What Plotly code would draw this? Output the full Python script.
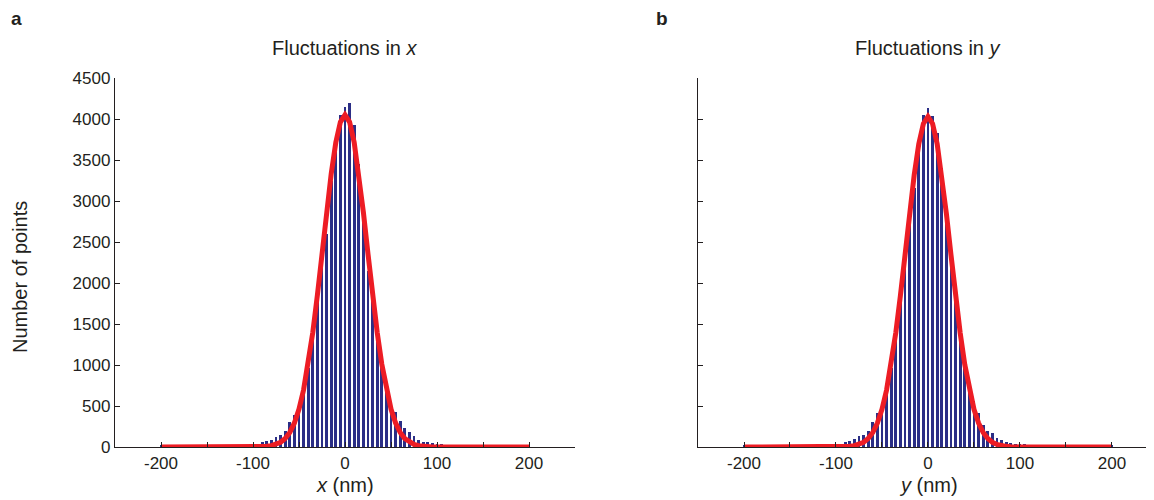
import plotly.graph_objects as go
from plotly.subplots import make_subplots

# histogram bins (nm), 5 nm wide
bin_nm = [-200, -105, -100, -95, -90, -85, -80, -75, -70, -65, -60, -55, -50, -45,
          -40, -35, -30, -25, -20, -15, -10, -5, 0, 5, 10, 15, 20, 25, 30, 35,
          40, 45, 50, 55, 60, 65, 70, 75, 80, 85, 90, 95, 100, 105, 200]

counts_x = [15, 24, 40, 40, 65, 77, 86, 122, 150, 199, 309, 385, 528, 720,
            960, 1330, 1780, 2270, 2593, 3250, 3700, 4053, 4150, 4196, 3930, 3450, 2800, 2144, 1780, 1350,
            1000, 738, 550, 432, 312, 235, 178, 130, 86, 65, 65, 49, 40, 37, 15]

counts_y = [15, 24, 40, 40, 57, 77, 98, 130, 150, 199, 301, 410, 528, 722,
            960, 1330, 1790, 2280, 2800, 3156, 3700, 4053, 4138, 4032, 3832, 3400, 2850, 2300, 1800, 1340,
            960, 690, 555, 420, 273, 199, 165, 115, 84, 57, 53, 40, 37, 33, 15]

# gaussian fit curves, read at 5 nm steps
fit_nm = [-200, -100, -95, -90, -85, -80, -75, -70, -65, -60, -55, -50, -45, -40, -35, -30,
          -25, -20, -15, -10, -5, 0, 5, 10, 15, 20, 25, 30, 35, 40, 45, 50, 55, 60, 65,
          70, 75, 80, 85, 90, 95, 100, 200]
fit_x = [0, 0, 1, 4, 8, 16, 31, 58, 103, 178, 293, 462, 698, 1010, 1398, 1854,
         2354, 2862, 3332, 3713, 3963, 4050, 3963, 3713, 3332, 2862, 2354, 1854, 1398, 1010, 698,
         462, 293, 178, 103, 58, 31, 16, 8, 4, 1, 0, 0]
fit_y = [0, 0, 1, 4, 8, 16, 31, 57, 103, 177, 292, 460, 695, 1005, 1392, 1845,
         2343, 2848, 3315, 3695, 3943, 4030, 3943, 3695, 3315, 2848, 2343, 1845, 1392, 1005, 695,
         460, 292, 177, 103, 57, 31, 16, 8, 4, 1, 0, 0]

x_ticks = [-250, -200, -150, -100, -50, 0, 50, 100, 150, 200, 250]
x_labels = ['', '-200', '', '-100', '', '0', '', '100', '', '200', '']
y_ticks = [0, 500, 1000, 1500, 2000, 2500, 3000, 3500, 4000, 4500]

NAVY = '#2b2e86'
RED = '#ed1c24'
INK = '#231f20'

W, H = 1154, 500
OFF = 8  # page body margin


def px(x):
    return (x - OFF) / W


def py(y):
    return 1 - (y - OFF) / H


fig = make_subplots(rows=1, cols=2)
fig.add_trace(go.Bar(x=bin_nm, y=counts_x, width=3.2, marker_color=NAVY,
                     marker_line_width=0), 1, 1)
fig.add_trace(go.Scatter(x=fit_nm, y=fit_x, mode='lines',
                         line=dict(color=RED, width=5)), 1, 1)
fig.add_trace(go.Bar(x=bin_nm, y=counts_y, width=3.2, marker_color=NAVY,
                     marker_line_width=0), 1, 2)
fig.add_trace(go.Scatter(x=fit_nm, y=fit_y, mode='lines',
                         line=dict(color=RED, width=5)), 1, 2)

axis_style = dict(showline=True, linecolor=INK, linewidth=1.3, ticks='inside',
                  ticklen=5, tickcolor=INK, tickwidth=1.2, showgrid=False,
                  zeroline=False, mirror=False, automargin=False,
                  tickfont=dict(size=17))

fig.update_xaxes(axis_style)
fig.update_yaxes(axis_style)

fig.update_layout(
    width=W, height=H, margin=dict(l=0, r=0, t=0, b=0),
    showlegend=False, plot_bgcolor='white', paper_bgcolor='white',
    bargap=0, barmode='overlay',
    font=dict(family='Liberation Sans, Arial, sans-serif', size=17, color=INK),
    xaxis=dict(domain=[px(115), px(575)], range=[-250, 250], tickvals=x_ticks,
               ticktext=x_labels),
    xaxis2=dict(domain=[px(698), px(1154)], range=[-250, 245.7], tickvals=x_ticks,
                ticktext=x_labels),
    yaxis=dict(domain=[py(447), py(78)], range=[0, 4500], tickvals=y_ticks),
    yaxis2=dict(domain=[py(447), py(78)], range=[0, 4500], tickvals=y_ticks,
                showticklabels=False),
)

texts = [
    ('Fluctuations in <i>x</i>', 345, 48, 20, 0),
    ('Fluctuations in <i>y</i>', 928, 48, 20, 0),
    ('<i>x</i> (nm)', 345, 485, 20, 0),
    ('<i>y</i> (nm)', 928, 485, 20, 0),
    ('Number of points', 20, 277, 20, -90),
    ('<b>a</b>', 16, 18, 19, 0),
    ('<b>b</b>', 662, 18, 19, 0),
]
for txt, x0, y0, size, angle in texts:
    fig.add_annotation(text=txt, x=px(x0), y=py(y0), xref='paper', yref='paper',
                       showarrow=False, xanchor='center', yanchor='middle',
                       textangle=angle, font=dict(size=size))

fig.write_html("out.html")
